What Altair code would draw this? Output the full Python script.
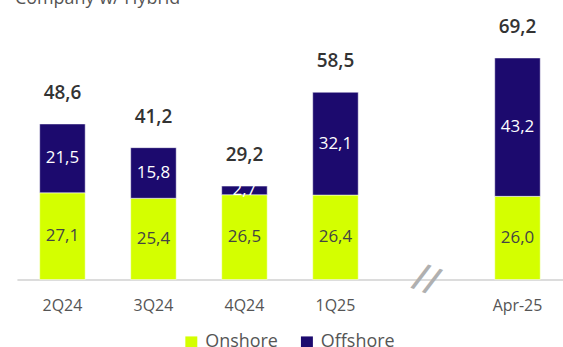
import altair as alt
import pandas as pd

categories = ["2Q24", "3Q24", "4Q24", "1Q25", "Apr-25"]
onshore = [27.1, 25.4, 26.5, 26.4, 26.0]
offshore = [21.5, 15.8, 2.7, 32.1, 43.2]
totals = [48.6, 41.2, 29.2, 58.5, 69.2]
x_domain = ["2Q24", "3Q24", "4Q24", "1Q25", "break", "Apr-25"]
series = ["Onshore", "Offshore"]
colors = ["#d4ff00", "#1c0a6e"]
title_text = "Company w/ Hybrid"

FONT = "Open Sans"

def fmt(v):
    return f"{v:.1f}".replace(".", ",")

rows = []
for c, on, off in zip(categories, onshore, offshore):
    rows.append({"cat": c, "series": "Onshore", "value": on, "order": 0,
                 "mid": on / 2, "label": fmt(on)})
    rows.append({"cat": c, "series": "Offshore", "value": off, "order": 1,
                 "mid": on + off / 2, "label": fmt(off)})
df = pd.DataFrame(rows)
tot_df = pd.DataFrame({"cat": categories, "total": totals,
                       "label": [fmt(t) for t in totals]})
brk_df = pd.DataFrame({"cat": ["break"], "v": [0], "label": ["//"]})
title_df = pd.DataFrame({"t": [title_text]})

xenc = alt.X("cat:N", scale=alt.Scale(domain=x_domain, paddingInner=0.5, paddingOuter=0.25),
             sort=x_domain,
             axis=alt.Axis(title=None, labelExpr="datum.value == 'break' ? '' : datum.value",
                           ticks=False, labelAngle=0, labelPadding=18, labelFontSize=16,
                           labelColor="#555555", labelFont=FONT, domainColor="#d0d0d0",
                           domainWidth=1.5, grid=False))
yscale = alt.Scale(domain=[0, 84])

bars = alt.Chart(df).mark_bar(stroke="#ffffff", strokeWidth=0.5).encode(
    x=xenc,
    y=alt.Y("value:Q", stack="zero", scale=yscale, axis=None),
    color=alt.Color("series:N", scale=alt.Scale(domain=series, range=colors),
                    legend=alt.Legend(title=None, orient="none", direction="horizontal",
                                      legendX=166, legendY=324, symbolType="square",
                                      symbolSize=144, symbolStrokeWidth=0,
                                      labelFontSize=18, labelColor="#555555", labelFont=FONT,
                                      labelOffset=5, columnPadding=20)),
    order=alt.Order("order:Q"),
)

seg_labels = alt.Chart(df).mark_text(fontSize=17, font=FONT, baseline="middle").encode(
    x=alt.X("cat:N", sort=x_domain),
    y=alt.Y("mid:Q", scale=yscale),
    text="label:N",
    color=alt.Color("series:N", scale=alt.Scale(domain=series, range=["#444444", "#ffffff"]),
                    legend=None),
)

tot_labels = alt.Chart(tot_df).mark_text(fontSize=19, font=FONT, fontWeight=600,
                                         color="#333333", baseline="middle", dy=-31).encode(
    x=alt.X("cat:N", sort=x_domain),
    y=alt.Y("total:Q", scale=yscale),
    text="label:N",
)

brk = alt.Chart(brk_df).mark_text(fontSize=34, font="DejaVu Sans", fontWeight="bold",
                                   color="#b0b0b0", angle=20, baseline="middle").encode(
    x=alt.X("cat:N", sort=x_domain),
    y=alt.Y("v:Q", scale=yscale),
    text="label:N",
)

ttl = alt.Chart(title_df).mark_text(fontSize=18, font=FONT, color="#555555", align="left",
                                    baseline="alphabetic").encode(
    x=alt.value(-2), y=alt.value(-7), text="t:N")

chart = alt.layer(bars, seg_labels, tot_labels, brk, ttl).resolve_scale(color="independent").properties(
    width=548, height=270,
    padding={"left": 17, "top": 10, "right": 0, "bottom": 67},
    autosize=alt.AutoSizeParams(type="none"),
).configure_view(stroke=None)

chart.save("out.html", embed_options={"renderer": "svg", "actions": False})
